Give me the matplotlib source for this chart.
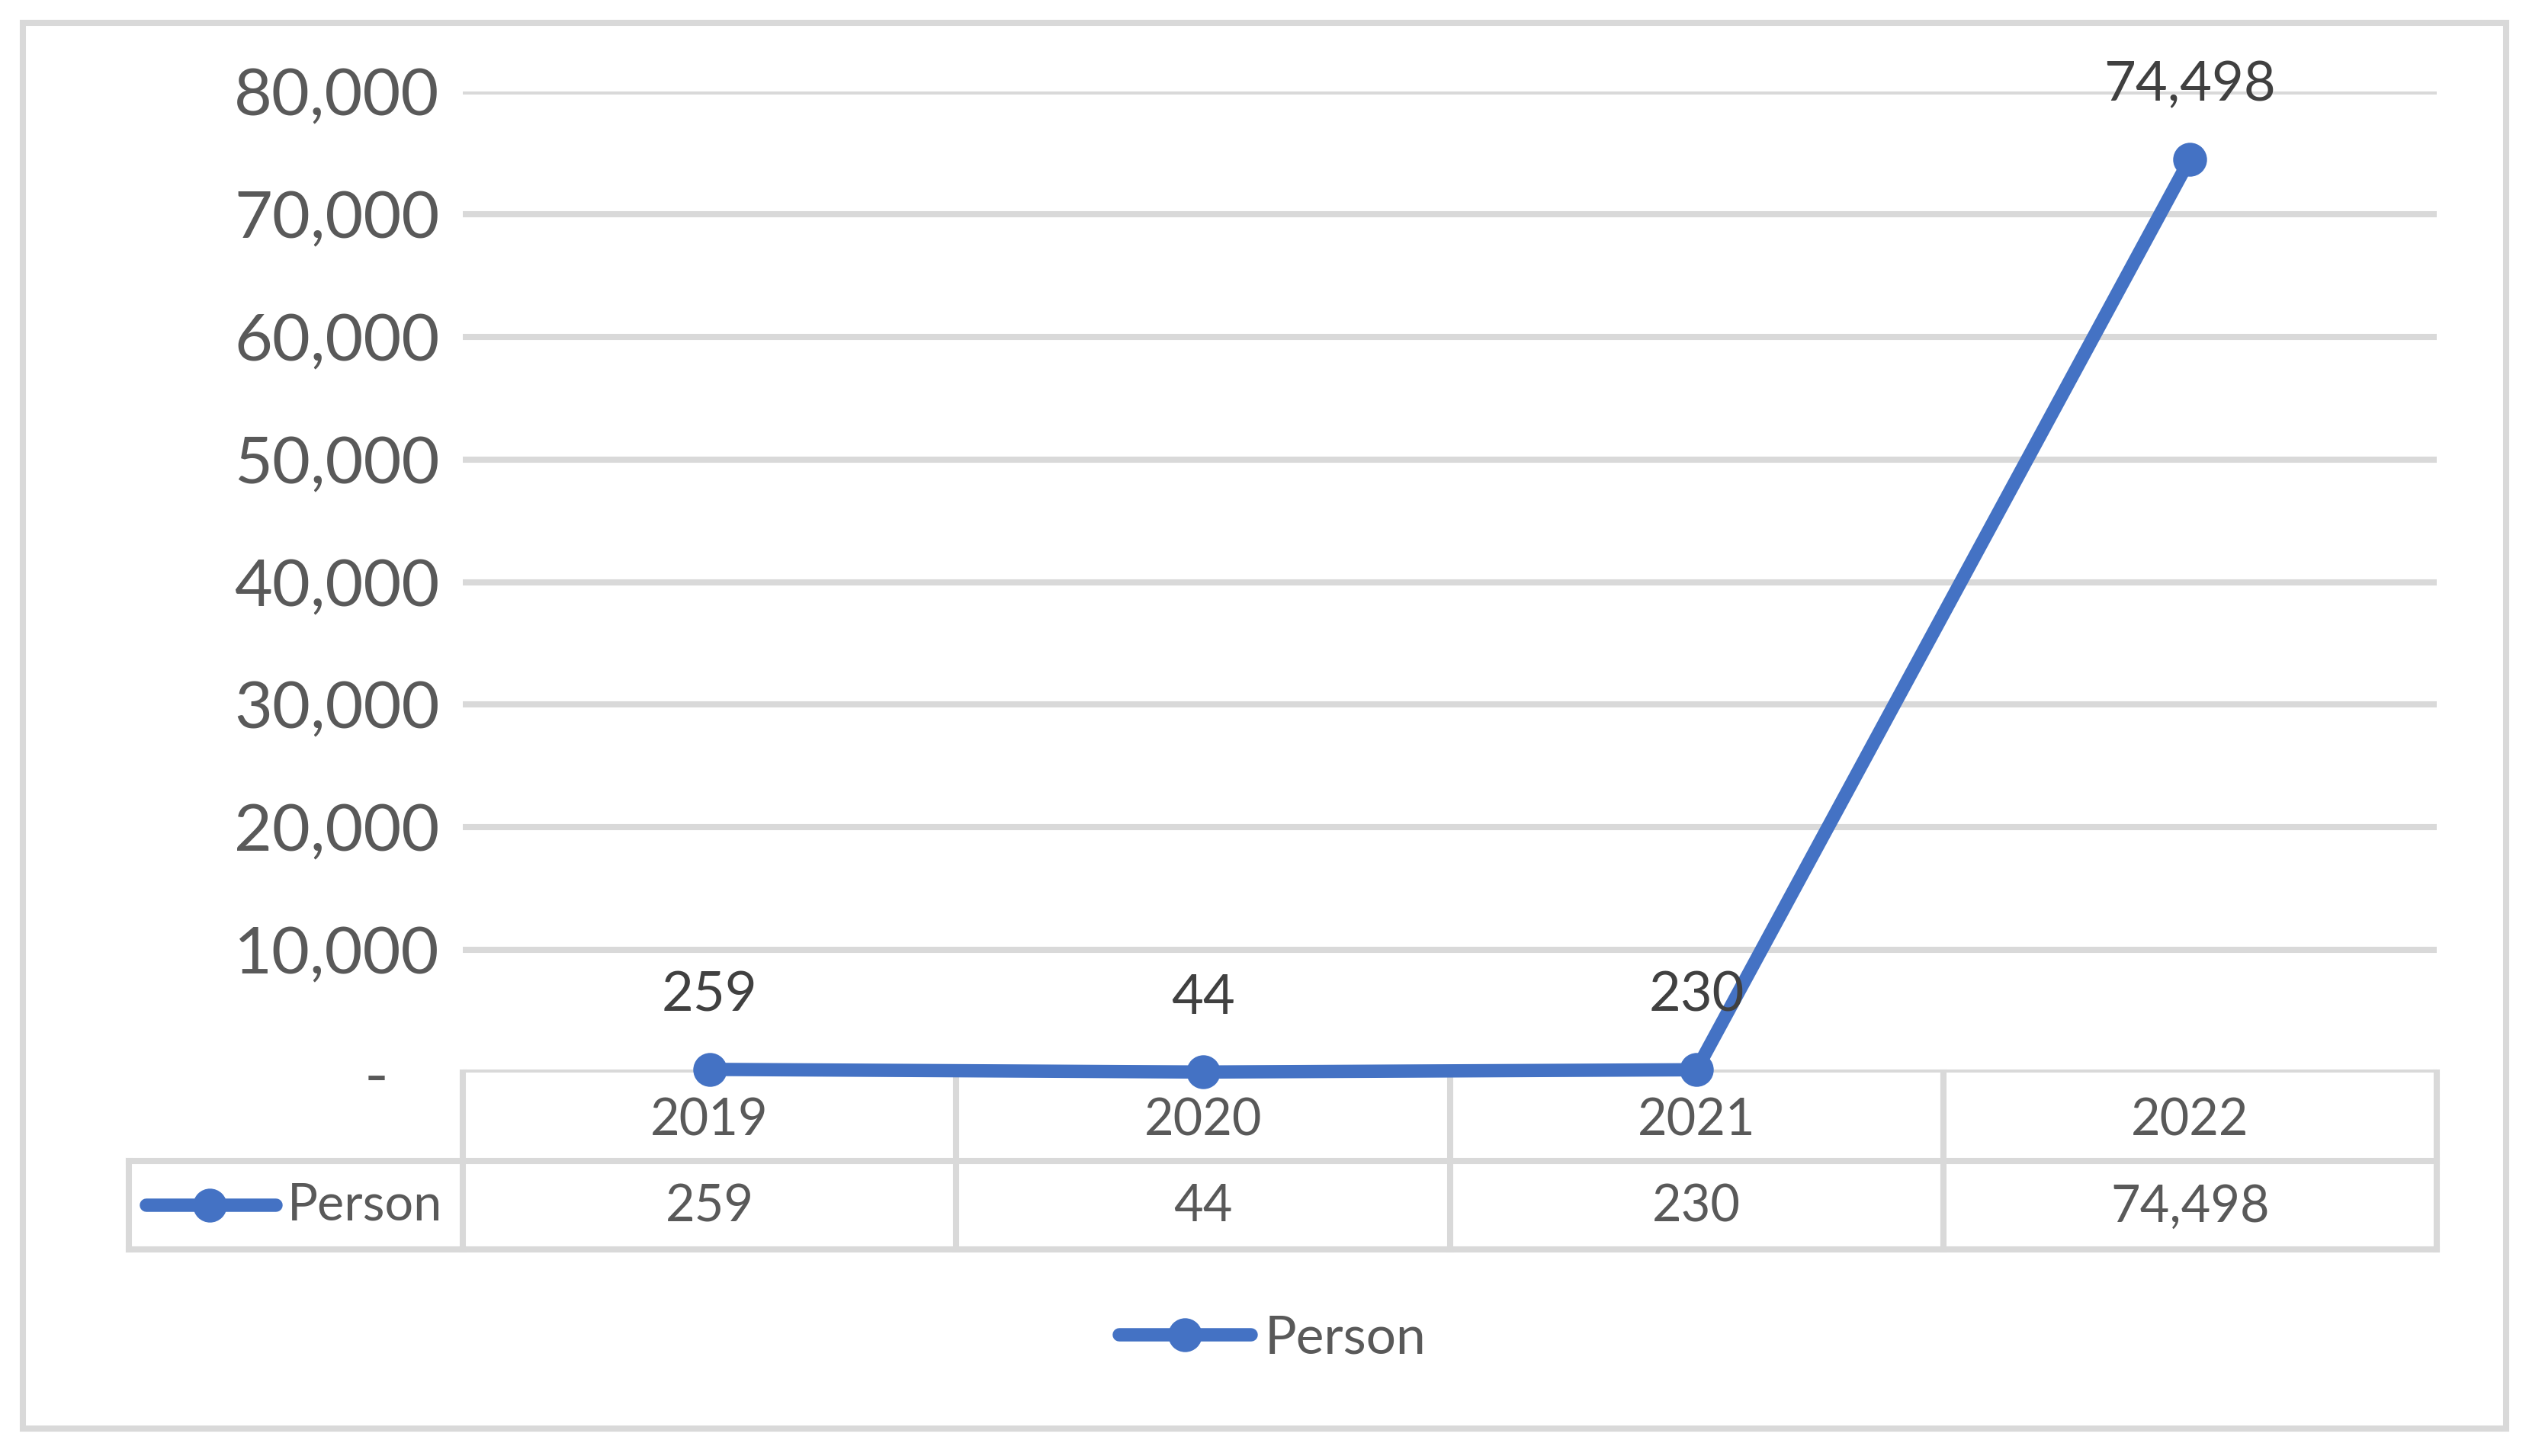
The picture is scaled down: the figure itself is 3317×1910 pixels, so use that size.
import matplotlib
matplotlib.use("Agg")
import matplotlib.pyplot as plt
from matplotlib.lines import Line2D
from matplotlib.patches import Rectangle

plt.rcParams['font.family'] = ['Lato', 'DejaVu Sans']

years = ['2019', '2020', '2021', '2022']
person = [259, 44, 230, 74498]
y_ticks = [0, 10000, 20000, 30000, 40000, 50000, 60000, 70000, 80000]
series_name = 'Person'

BLUE = '#4472C4'
GRID = '#D9D9D9'
TXT = '#595959'
LBL = '#404040'

W, H = 3317, 1910
DPI = 200
fig = plt.figure(figsize=(W / DPI, H / DPI), dpi=DPI)


def fx(px):
    return px / W


def fy(py):
    return 1 - py / H


# plot area in pixels
left, right, top, bottom = 607, 3196, 120, 1407
row_h = 116
ax = fig.add_axes([fx(left), fy(bottom), fx(right - left), (bottom - top) / H])
ax.patch.set_visible(False)

LW = 6.3
MS = 15

x = list(range(len(years)))
ax.plot(x, person, color=BLUE, lw=LW, marker='o', ms=MS,
        solid_capstyle='round', label=series_name, zorder=5, clip_on=False)

for xi, v in zip(x, person):
    ax.annotate(f'{v:,}', (xi, v), xytext=(0, 35), textcoords='offset points',
                ha='center', va='center', fontsize=26, color=LBL, zorder=6)

ax.set_xlim(-0.5, len(years) - 0.5)
ax.set_ylim(y_ticks[0], y_ticks[-1])
ax.set_yticks(y_ticks)
# accounting style: zero shown as a dash with padding after it
ax.set_yticklabels(['-   ' if t == 0 else f'{t:,}' for t in y_ticks])
ax.tick_params(axis='y', length=0, pad=11, labelsize=31, labelcolor=TXT)
ax.set_xticks([])
for s in ax.spines.values():
    s.set_visible(False)
ax.grid(axis='y', color=GRID, lw=2.9)
ax.set_axisbelow(True)

# data table below the plot area
lw_t = 2.9
tbl_left = 169
for r in (1, 2):
    yy = bottom + r * row_h
    fig.add_artist(Line2D([fx(tbl_left), fx(right)], [fy(yy)] * 2, color=GRID, lw=lw_t, zorder=-1))
fig.add_artist(Line2D([fx(tbl_left)] * 2, [fy(bottom + row_h), fy(bottom + 2 * row_h)],
                      color=GRID, lw=lw_t, zorder=-1))
col_w = (right - left) / len(years)
for i in range(len(years) + 1):
    xx = left + i * col_w
    fig.add_artist(Line2D([fx(xx)] * 2, [fy(bottom), fy(bottom + 2 * row_h)],
                          color=GRID, lw=lw_t, zorder=-1))
for i, (yr, v) in enumerate(zip(years, person)):
    cx = fx(left + (i + 0.5) * col_w)
    fig.text(cx, fy(bottom + 0.55 * row_h), yr, ha='center', va='center', fontsize=24, color=TXT)
    fig.text(cx, fy(bottom + 1.52 * row_h), f'{v:,}', ha='center', va='center', fontsize=24, color=TXT)

# legend key inside the table
ky = fy(bottom + 1.5 * row_h)
fig.add_artist(Line2D([fx(192), fx(362)], [ky, ky], color=BLUE, lw=LW, solid_capstyle='round'))
fig.add_artist(Line2D([fx(275)], [ky], color=BLUE, marker='o', ms=MS, lw=0))
fig.text(fx(377), ky, series_name, ha='left', va='center', fontsize=24, color=TXT)

# bottom legend
leg = ax.legend(loc='center', bbox_to_anchor=(fx(1669), fy(1756)), bbox_transform=fig.transFigure,
                frameon=False, fontsize=25, handlelength=2.5, handletextpad=0.25, numpoints=1)
for t in leg.get_texts():
    t.set_color(TXT)
for h in leg.legend_handles:
    h.set_solid_capstyle('round')

# outer chart border
fig.add_artist(Rectangle((fx(30), fy(1874)), fx(3287 - 30), (1874 - 30) / H,
                         fill=False, edgecolor=GRID, lw=2.9, transform=fig.transFigure, zorder=-1))

fig.savefig('out.png', dpi=DPI, facecolor='white')
